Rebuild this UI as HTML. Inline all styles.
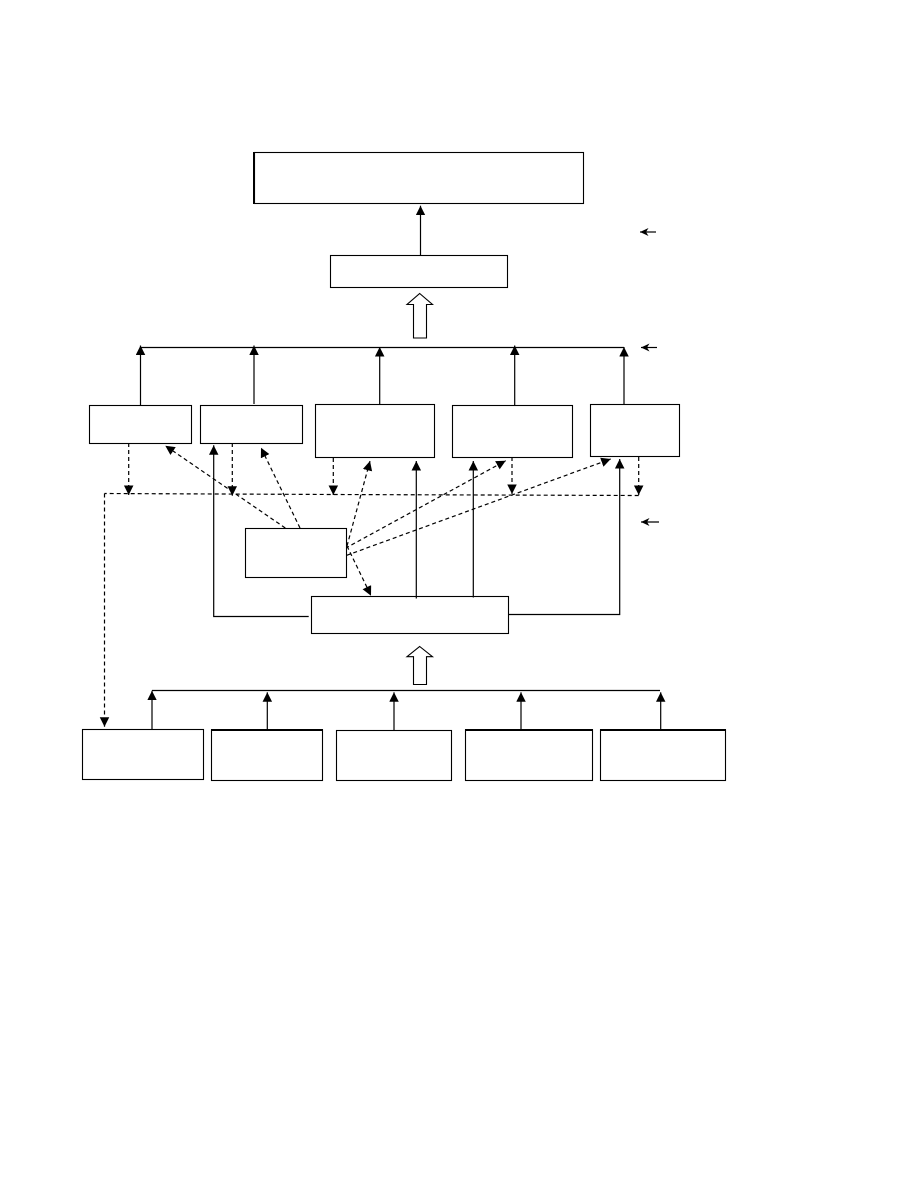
<!DOCTYPE html>
<html>
<head>
<meta charset="utf-8">
<title>Diagram</title>
<style>
html,body{margin:0;padding:0;background:#fff;width:918px;height:1188px;overflow:hidden}
svg{display:block}
.b{fill:#fff;stroke:#000;stroke-width:1.1}
.l{fill:none;stroke:#000;stroke-width:1.2}
.d{fill:none;stroke:#000;stroke-width:1.2;stroke-dasharray:4 3}
</style>
</head>
<body>
<svg width="918" height="1188" viewBox="0 0 918 1188" xmlns="http://www.w3.org/2000/svg">
<defs>
<marker id="a" markerUnits="userSpaceOnUse" markerWidth="11" markerHeight="11" refX="9.5" refY="4.75" orient="auto">
<path d="M0,0 L9.5,4.75 L0,9.5 Z" fill="#000"/>
</marker>
<marker id="s" markerUnits="userSpaceOnUse" markerWidth="10" markerHeight="10" refX="8.5" refY="4" orient="auto">
<path d="M0,0 L8.5,4 L0,8 L2.5,4 Z" fill="#000"/>
</marker>
</defs>

<!-- top boxes -->
<rect class="b" x="254.5" y="152.5" width="329" height="51"/>
<path d="M254,152 V204" stroke="#000" stroke-width="2" fill="none"/>
<rect class="b" x="330.5" y="255.5" width="177" height="32"/>
<path class="l" d="M420.5,255 V205.7" marker-end="url(#a)"/>

<!-- block arrow -->
<path class="b" d="M419.7,293.5 L432.5,304.5 H426.5 V338 H413.5 V304.5 H407 Z"/>

<!-- bus 1 -->
<path class="l" d="M140,347.5 H624"/>
<path class="l" d="M140.5,405 V345.5" marker-end="url(#a)"/>
<path class="l" d="M254,404 V345.5" marker-end="url(#a)"/>
<path class="l" d="M379.7,404 V347" marker-end="url(#a)"/>
<path class="l" d="M514.7,405 V345.5" marker-end="url(#a)"/>
<path class="l" d="M624,404 V347" marker-end="url(#a)"/>

<!-- row boxes -->
<rect class="b" x="89.5" y="405.5" width="102" height="38"/>
<rect class="b" x="200.5" y="405.5" width="102" height="38"/>
<rect class="b" x="315.5" y="404.5" width="119" height="53"/>
<rect class="b" x="452.5" y="405.5" width="120" height="52"/>
<rect class="b" x="590.5" y="404.5" width="89" height="52"/>

<!-- side arrows -->
<path class="l" d="M656,232 H640" marker-end="url(#s)"/>
<path class="l" d="M657,347.5 H641" marker-end="url(#s)"/>
<path class="l" d="M659,522 H641" marker-end="url(#s)"/>

<!-- dashed bus -->
<path class="d" d="M638.7,495.5 L333,494.5 L104.5,493.5"/>
<path class="d" d="M104.5,493.5 V726.7" marker-end="url(#a)"/>
<path class="d" d="M128.7,443 V495" marker-end="url(#a)"/>
<path class="d" d="M232.3,443 V495.7" marker-end="url(#a)"/>
<path class="d" d="M333.3,458 V495" marker-end="url(#a)"/>
<path class="d" d="M512,457 V494" marker-end="url(#a)"/>
<path class="d" d="M638.7,457 V495" marker-end="url(#a)"/>

<!-- dashed diagonals -->
<path class="d" d="M285.3,528 L165.3,445.7" marker-end="url(#a)"/>
<path class="d" d="M300,528 L261,447.7" marker-end="url(#a)"/>
<path class="d" d="M347,546 L370,461" marker-end="url(#a)"/>
<path class="d" d="M345.3,548.3 L505.7,460.7" marker-end="url(#a)"/>
<path class="d" d="M346.7,555.3 L610.7,459" marker-end="url(#a)"/>
<path class="d" d="M347,546 L371,595.7" marker-end="url(#a)"/>

<!-- centre boxes -->
<rect class="b" x="245.5" y="528.5" width="101" height="49"/>
<rect class="b" x="311.5" y="596.5" width="197" height="37"/>

<!-- solid feeds -->
<path class="l" d="M308.7,616.5 H213.7 V445.3" marker-end="url(#a)"/>
<path class="l" d="M416.3,598.5 V461" marker-end="url(#a)"/>
<path class="l" d="M473.3,597.5 V461" marker-end="url(#a)"/>
<path class="l" d="M508.7,614.5 H619.7 V459" marker-end="url(#a)"/>

<!-- lower block arrow -->
<path class="b" d="M419.7,646.5 L432.5,656.7 H426.5 V684.5 H413.5 V656.7 H407 Z"/>

<!-- bus 2 -->
<path class="l" d="M152,690.5 H660"/>
<path class="l" d="M152,729 V690.7" marker-end="url(#a)"/>
<path class="l" d="M267.3,729 V692.3" marker-end="url(#a)"/>
<path class="l" d="M394,730 V692.3" marker-end="url(#a)"/>
<path class="l" d="M521,729 V692.3" marker-end="url(#a)"/>
<path class="l" d="M660.7,729 V692.3" marker-end="url(#a)"/>

<!-- bottom boxes -->
<rect class="b" x="82.5" y="729.5" width="121" height="50"/>
<rect class="b" x="211.5" y="730" width="111" height="50.5"/>
<path d="M211,730 H323" stroke="#000" stroke-width="2"/>
<rect class="b" x="336.5" y="730.5" width="115" height="50"/>
<rect class="b" x="465.5" y="730" width="127" height="50.5"/>
<path d="M465,730 H593" stroke="#000" stroke-width="2"/>
<rect class="b" x="600.5" y="730" width="125" height="50.5"/>
<path d="M600,730 H726" stroke="#000" stroke-width="2"/>
</svg>
</body>
</html>
